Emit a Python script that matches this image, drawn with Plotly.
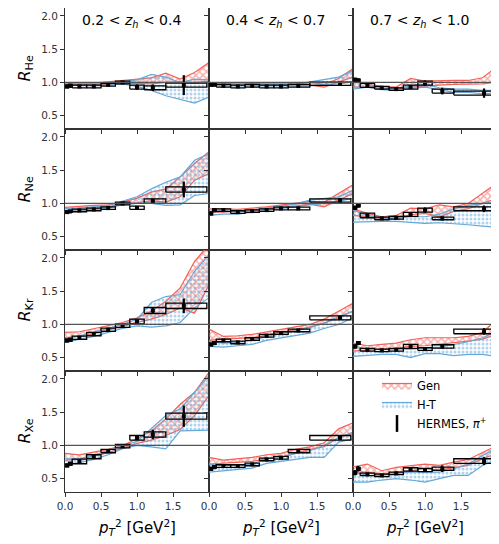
import plotly.graph_objects as go
from plotly.subplots import make_subplots

# ---------------- data ----------------
pt2_model = [0.0, 0.2, 0.4, 0.6, 0.8, 1.0, 1.2, 1.4, 1.6, 1.8, 2.0]
hermes_x_z1 = [0.03, 0.07, 0.2, 0.4, 0.6, 0.8, 1.0, 1.22, 1.65]
hermes_x_z23 = [0.03, 0.07, 0.2, 0.4, 0.6, 0.8, 1.0, 1.24, 1.82]
bin_lo = [0.0, 0.05, 0.1, 0.3, 0.5, 0.7, 0.9, 1.1, 1.4]
bin_hi = [0.05, 0.1, 0.3, 0.5, 0.7, 0.9, 1.1, 1.4, 1.97]

nuclei = ["He", "Ne", "Kr", "Xe"]
zh_labels = ["0.2 &lt; <i>z</i><sub><i>h</i></sub> &lt; 0.4",
             "0.4 &lt; <i>z</i><sub><i>h</i></sub> &lt; 0.7",
             "0.7 &lt; <i>z</i><sub><i>h</i></sub> &lt; 1.0"]

# He
he_z1_y = [0.94, 0.95, 0.94, 0.94, 0.965, 1.0, 0.93, 0.92, 0.96]
he_z1_stat = [0.01, 0.01, 0.01, 0.01, 0.01, 0.015, 0.04, 0.05, 0.15]
he_z1_sys = [0.02, 0.02, 0.02, 0.02, 0.02, 0.02, 0.03, 0.03, 0.03]
gen_he_z1_lo = [0.96, 0.96, 0.96, 0.97, 0.99, 0.99, 0.98, 1.00, 1.01, 0.99, 1.02]
gen_he_z1_hi = [0.99, 0.98, 0.99, 1.00, 1.03, 1.05, 1.07, 1.14, 1.05, 1.15, 1.30]
ht_he_z1_lo = [0.96, 0.95, 0.95, 0.96, 0.98, 0.94, 0.88, 0.80, 0.74, 0.69, 0.78]
ht_he_z1_hi = [0.99, 0.98, 0.98, 0.99, 1.01, 1.04, 1.12, 1.08, 1.00, 1.05, 1.04]

he_z2_y = [0.965, 0.97, 0.95, 0.94, 0.95, 0.94, 0.94, 0.95, 0.98]
he_z2_stat = [0.015, 0.01, 0.01, 0.01, 0.01, 0.01, 0.01, 0.015, 0.03]
he_z2_sys = [0.02, 0.02, 0.02, 0.02, 0.02, 0.02, 0.02, 0.02, 0.025]
gen_he_z2_lo = [0.96, 0.96, 0.95, 0.96, 0.96, 0.96, 0.96, 0.96, 0.93, 1.00, 1.08]
gen_he_z2_hi = [0.99, 0.99, 0.98, 0.99, 0.99, 0.99, 0.99, 1.00, 0.97, 1.06, 1.21]
ht_he_z2_lo = [0.95, 0.95, 0.94, 0.95, 0.94, 0.94, 0.94, 0.95, 0.97, 0.98, 1.01]
ht_he_z2_hi = [0.98, 0.98, 0.97, 0.98, 0.97, 0.97, 0.97, 1.00, 1.04, 1.08, 1.18]

he_z3_y = [1.04, 1.03, 0.955, 0.92, 0.90, 0.93, 0.99, 0.87, 0.84]
he_z3_stat = [0.03, 0.03, 0.015, 0.015, 0.015, 0.02, 0.04, 0.05, 0.07]
he_z3_sys = [0.02, 0.02, 0.03, 0.02, 0.02, 0.03, 0.03, 0.03, 0.03]
gen_he_z3_lo = [0.93, 0.93, 0.90, 0.90, 0.93, 0.95, 0.96, 0.97, 0.97, 0.98, 1.00]
gen_he_z3_hi = [1.02, 0.97, 0.94, 0.93, 1.06, 1.02, 1.02, 1.03, 1.03, 1.07, 1.24]
ht_he_z3_lo = [0.90, 0.93, 0.89, 0.88, 0.91, 0.93, 0.89, 0.85, 0.85, 0.83, 0.84]
ht_he_z3_hi = [1.05, 0.96, 0.92, 0.91, 0.95, 0.97, 0.92, 0.90, 0.90, 0.88, 0.88]

# Ne
ne_z1_y = [0.87, 0.88, 0.895, 0.91, 0.93, 1.0, 0.935, 1.035, 1.21]
ne_z1_stat = [0.01, 0.01, 0.01, 0.01, 0.01, 0.015, 0.02, 0.04, 0.12]
ne_z1_sys = [0.015, 0.015, 0.02, 0.02, 0.02, 0.02, 0.025, 0.035, 0.04]
gen_ne_z1_lo = [0.89, 0.90, 0.92, 0.95, 0.99, 1.01, 1.04, 1.02, 1.10, 1.35, 1.45]
gen_ne_z1_hi = [0.94, 0.95, 0.97, 0.98, 1.02, 1.08, 1.17, 1.22, 1.40, 1.60, 1.78]
ht_ne_z1_lo = [0.86, 0.88, 0.90, 0.93, 0.98, 1.00, 1.00, 0.97, 0.98, 1.12, 1.15]
ht_ne_z1_hi = [0.92, 0.93, 0.95, 0.97, 1.03, 1.10, 1.22, 1.32, 1.40, 1.65, 1.75]

ne_z2_y = [0.85, 0.90, 0.90, 0.87, 0.885, 0.90, 0.925, 0.925, 1.045]
ne_z2_stat = [0.015, 0.01, 0.01, 0.01, 0.01, 0.01, 0.01, 0.015, 0.03]
ne_z2_sys = [0.02, 0.02, 0.02, 0.02, 0.02, 0.02, 0.02, 0.02, 0.025]
gen_ne_z2_lo = [0.86, 0.87, 0.87, 0.89, 0.91, 0.93, 0.96, 0.99, 0.95, 1.05, 1.15]
gen_ne_z2_hi = [0.92, 0.92, 0.91, 0.93, 0.95, 0.97, 1.00, 1.03, 1.02, 1.15, 1.28]
ht_ne_z2_lo = [0.82, 0.84, 0.84, 0.87, 0.89, 0.92, 0.95, 0.98, 1.00, 1.03, 1.08]
ht_ne_z2_hi = [0.88, 0.89, 0.87, 0.90, 0.93, 0.96, 0.99, 1.05, 1.07, 1.10, 1.20]

ne_z3_y = [0.935, 0.97, 0.82, 0.775, 0.785, 0.835, 0.90, 0.775, 0.92]
ne_z3_stat = [0.03, 0.03, 0.015, 0.015, 0.015, 0.02, 0.04, 0.03, 0.05]
ne_z3_sys = [0.02, 0.02, 0.035, 0.02, 0.02, 0.03, 0.03, 0.02, 0.03]
gen_ne_z3_lo = [0.82, 0.80, 0.77, 0.78, 0.83, 0.85, 0.80, 0.88, 0.92, 1.00, 1.08]
gen_ne_z3_hi = [0.92, 0.85, 0.80, 0.82, 0.93, 0.92, 0.98, 0.95, 1.00, 1.15, 1.31]
ht_ne_z3_lo = [0.72, 0.73, 0.73, 0.73, 0.72, 0.70, 0.71, 0.70, 0.68, 0.66, 0.64]
ht_ne_z3_hi = [0.90, 0.82, 0.78, 0.78, 0.80, 0.80, 0.84, 0.92, 0.97, 1.00, 1.03]

# Kr
kr_z1_y = [0.76, 0.77, 0.80, 0.855, 0.92, 0.98, 1.045, 1.21, 1.28]
kr_z1_stat = [0.01, 0.01, 0.01, 0.01, 0.01, 0.015, 0.02, 0.05, 0.11]
kr_z1_sys = [0.02, 0.02, 0.025, 0.025, 0.025, 0.025, 0.035, 0.045, 0.04]
gen_kr_z1_lo = [0.80, 0.82, 0.86, 0.91, 0.97, 1.03, 1.08, 1.15, 1.25, 1.17, 1.60]
gen_kr_z1_hi = [0.88, 0.89, 0.93, 0.98, 1.03, 1.10, 1.20, 1.35, 1.55, 1.95, 2.20]
ht_kr_z1_lo = [0.73, 0.77, 0.82, 0.88, 0.94, 0.98, 0.96, 0.98, 1.03, 1.25, 1.40]
ht_kr_z1_hi = [0.79, 0.83, 0.88, 0.94, 1.00, 1.08, 1.33, 1.42, 1.45, 1.80, 2.05]

kr_z2_y = [0.70, 0.72, 0.76, 0.73, 0.78, 0.83, 0.87, 0.91, 1.10]
kr_z2_stat = [0.015, 0.01, 0.01, 0.01, 0.01, 0.01, 0.01, 0.015, 0.03]
kr_z2_sys = [0.02, 0.02, 0.02, 0.02, 0.02, 0.02, 0.02, 0.02, 0.03]
gen_kr_z2_lo = [0.76, 0.78, 0.79, 0.80, 0.84, 0.88, 0.92, 0.96, 1.02, 1.10, 1.20]
gen_kr_z2_hi = [0.93, 0.82, 0.83, 0.85, 0.88, 0.92, 0.96, 1.00, 1.08, 1.20, 1.32]
ht_kr_z2_lo = [0.67, 0.66, 0.68, 0.70, 0.76, 0.80, 0.84, 0.87, 0.94, 1.00, 1.10]
ht_kr_z2_hi = [0.75, 0.72, 0.73, 0.76, 0.82, 0.86, 0.90, 0.95, 1.02, 1.12, 1.20]

kr_z3_y = [0.67, 0.72, 0.62, 0.61, 0.62, 0.67, 0.63, 0.67, 0.895]
kr_z3_stat = [0.03, 0.03, 0.015, 0.015, 0.015, 0.02, 0.03, 0.03, 0.05]
kr_z3_sys = [0.02, 0.02, 0.02, 0.02, 0.02, 0.03, 0.02, 0.025, 0.035]
gen_kr_z3_lo = [0.60, 0.62, 0.63, 0.64, 0.67, 0.68, 0.70, 0.72, 0.75, 0.78, 0.85]
gen_kr_z3_hi = [0.72, 0.68, 0.70, 0.72, 0.77, 0.80, 0.80, 0.80, 0.82, 0.88, 1.08]
ht_kr_z3_lo = [0.52, 0.54, 0.55, 0.55, 0.50, 0.56, 0.56, 0.53, 0.55, 0.55, 0.52]
ht_kr_z3_hi = [0.68, 0.63, 0.62, 0.63, 0.63, 0.65, 0.66, 0.70, 0.74, 0.80, 0.90]

# Xe
xe_z1_y = [0.70, 0.725, 0.76, 0.83, 0.915, 0.99, 1.115, 1.165, 1.44]
xe_z1_stat = [0.01, 0.01, 0.01, 0.01, 0.01, 0.015, 0.03, 0.07, 0.16]
xe_z1_sys = [0.02, 0.02, 0.035, 0.03, 0.025, 0.025, 0.035, 0.04, 0.045]
gen_xe_z1_lo = [0.78, 0.79, 0.84, 0.89, 0.96, 1.03, 1.08, 1.15, 1.24, 1.45, 1.75]
gen_xe_z1_hi = [0.88, 0.86, 0.90, 0.94, 1.00, 1.10, 1.22, 1.40, 1.62, 1.80, 2.10]
ht_xe_z1_lo = [0.72, 0.74, 0.79, 0.86, 0.95, 1.00, 0.98, 0.95, 1.22, 1.23, 1.23]
ht_xe_z1_hi = [0.80, 0.80, 0.85, 0.92, 1.00, 1.06, 1.25, 1.45, 1.55, 1.80, 2.05]

xe_z2_y = [0.65, 0.675, 0.69, 0.69, 0.715, 0.79, 0.815, 0.915, 1.115]
xe_z2_stat = [0.015, 0.01, 0.01, 0.01, 0.01, 0.01, 0.01, 0.015, 0.03]
xe_z2_sys = [0.02, 0.02, 0.02, 0.02, 0.02, 0.02, 0.02, 0.025, 0.035]
gen_xe_z2_lo = [0.72, 0.73, 0.74, 0.76, 0.80, 0.82, 0.88, 0.94, 0.98, 1.12, 1.18]
gen_xe_z2_hi = [0.82, 0.78, 0.80, 0.82, 0.86, 0.88, 0.94, 0.98, 1.04, 1.25, 1.34]
ht_xe_z2_lo = [0.60, 0.62, 0.63, 0.66, 0.73, 0.76, 0.80, 0.82, 0.82, 1.05, 1.10]
ht_xe_z2_hi = [0.72, 0.70, 0.70, 0.72, 0.80, 0.82, 0.88, 0.92, 1.00, 1.12, 1.20]

xe_z3_y = [0.59, 0.65, 0.565, 0.55, 0.58, 0.64, 0.63, 0.65, 0.765]
xe_z3_stat = [0.04, 0.04, 0.015, 0.015, 0.015, 0.02, 0.03, 0.05, 0.06]
xe_z3_sys = [0.02, 0.02, 0.02, 0.02, 0.02, 0.025, 0.025, 0.025, 0.035]
gen_xe_z3_lo = [0.60, 0.60, 0.57, 0.60, 0.63, 0.65, 0.63, 0.66, 0.70, 0.80, 0.88]
gen_xe_z3_hi = [0.68, 0.72, 0.62, 0.67, 0.70, 0.72, 0.70, 0.75, 0.79, 0.90, 1.00]
ht_xe_z3_lo = [0.45, 0.45, 0.48, 0.50, 0.48, 0.45, 0.50, 0.55, 0.55, 0.70, 0.79]
ht_xe_z3_hi = [0.60, 0.55, 0.55, 0.58, 0.60, 0.60, 0.60, 0.65, 0.72, 0.85, 0.97]

panels = {
    ("He", 0): (he_z1_y, he_z1_stat, he_z1_sys, gen_he_z1_lo, gen_he_z1_hi, ht_he_z1_lo, ht_he_z1_hi),
    ("He", 1): (he_z2_y, he_z2_stat, he_z2_sys, gen_he_z2_lo, gen_he_z2_hi, ht_he_z2_lo, ht_he_z2_hi),
    ("He", 2): (he_z3_y, he_z3_stat, he_z3_sys, gen_he_z3_lo, gen_he_z3_hi, ht_he_z3_lo, ht_he_z3_hi),
    ("Ne", 0): (ne_z1_y, ne_z1_stat, ne_z1_sys, gen_ne_z1_lo, gen_ne_z1_hi, ht_ne_z1_lo, ht_ne_z1_hi),
    ("Ne", 1): (ne_z2_y, ne_z2_stat, ne_z2_sys, gen_ne_z2_lo, gen_ne_z2_hi, ht_ne_z2_lo, ht_ne_z2_hi),
    ("Ne", 2): (ne_z3_y, ne_z3_stat, ne_z3_sys, gen_ne_z3_lo, gen_ne_z3_hi, ht_ne_z3_lo, ht_ne_z3_hi),
    ("Kr", 0): (kr_z1_y, kr_z1_stat, kr_z1_sys, gen_kr_z1_lo, gen_kr_z1_hi, ht_kr_z1_lo, ht_kr_z1_hi),
    ("Kr", 1): (kr_z2_y, kr_z2_stat, kr_z2_sys, gen_kr_z2_lo, gen_kr_z2_hi, ht_kr_z2_lo, ht_kr_z2_hi),
    ("Kr", 2): (kr_z3_y, kr_z3_stat, kr_z3_sys, gen_kr_z3_lo, gen_kr_z3_hi, ht_kr_z3_lo, ht_kr_z3_hi),
    ("Xe", 0): (xe_z1_y, xe_z1_stat, xe_z1_sys, gen_xe_z1_lo, gen_xe_z1_hi, ht_xe_z1_lo, ht_xe_z1_hi),
    ("Xe", 1): (xe_z2_y, xe_z2_stat, xe_z2_sys, gen_xe_z2_lo, gen_xe_z2_hi, ht_xe_z2_lo, ht_xe_z2_hi),
    ("Xe", 2): (xe_z3_y, xe_z3_stat, xe_z3_sys, gen_xe_z3_lo, gen_xe_z3_hi, ht_xe_z3_lo, ht_xe_z3_hi),
}

# ---------------- figure ----------------
# the page places the figure 8 px in from the top-left corner of the window
OFF = 8
W, H = 499 - OFF, 544 - OFF
ML, MR, MT, MB = 65 - OFF, 2, 8 - OFF, 52
RED = "rgb(242,98,88)"
BLUE = "rgb(102,168,218)"
AX = "#333333"
FONT = "DejaVu Sans"

fig = make_subplots(rows=4, cols=3, shared_xaxes=True, shared_yaxes=True,
                    horizontal_spacing=0, vertical_spacing=0)

first = True
for r, nuc in enumerate(nuclei):
    for c in range(3):
        y, stat, sys_, glo, ghi, hlo, hhi = panels[(nuc, c)]
        xs = hermes_x_z1 if c == 0 else hermes_x_z23
        band_x = pt2_model + pt2_model[::-1]
        # Gen band
        fig.add_trace(go.Scatter(
            x=band_x, y=glo + ghi[::-1], fill="toself", mode="lines",
            line=dict(color=RED, width=1.2), fillcolor="rgba(0,0,0,0)",
            fillpattern=dict(shape="x", fgcolor=RED, bgcolor="rgba(255,255,255,0)",
                             size=5, solidity=0.5),
            name="Gen", legendgroup="gen", showlegend=first),
            row=r + 1, col=c + 1)
        # H-T band
        fig.add_trace(go.Scatter(
            x=band_x, y=hlo + hhi[::-1], fill="toself", mode="lines",
            line=dict(color=BLUE, width=1.2), fillcolor="rgba(0,0,0,0)",
            fillpattern=dict(shape=".", fgcolor=BLUE, bgcolor="rgba(255,255,255,0)",
                             size=4, solidity=0.45),
            name="H-T", legendgroup="ht", showlegend=first),
            row=r + 1, col=c + 1)
        # systematic boxes
        bx, by = [], []
        for x0, x1, yy, s in zip(bin_lo, bin_hi, y, sys_):
            bx += [x0, x1, x1, x0, x0, None]
            by += [yy - s, yy - s, yy + s, yy + s, yy - s, None]
        fig.add_trace(go.Scatter(x=bx, y=by, mode="lines",
                                 line=dict(color="black", width=1.3),
                                 showlegend=False, hoverinfo="skip"),
                      row=r + 1, col=c + 1)
        # data points
        fig.add_trace(go.Scatter(
            x=xs, y=y, mode="markers",
            marker=dict(color="black", size=4, symbol="square"),
            error_y=dict(type="data", array=stat, color="black", thickness=2.2, width=0),
            showlegend=False, name="HERMES"),
            row=r + 1, col=c + 1)
        fig.add_hline(y=1.0, line=dict(color="#555555", width=1.2), row=r + 1, col=c + 1)
        first = False

# legend proxy for HERMES
fig.add_trace(go.Scatter(x=[None], y=[None], mode="markers",
                         marker=dict(symbol="line-ns-open", size=12, color="black",
                                     line=dict(color="black", width=2.5)),
                         name="HERMES, <i>π</i><sup>+</sup>"), row=4, col=3)

fig.update_xaxes(range=[0, 2.0], tickvals=[0, 0.5, 1.0, 1.5],
                 ticktext=["0.0", "0.5", "1.0", "1.5"],
                 showgrid=False, zeroline=False, showline=True, mirror=True,
                 linecolor=AX, linewidth=1, ticks="outside", ticklen=4,
                 tickcolor=AX, tickfont=dict(size=10.5, color=AX, family=FONT))
fig.update_yaxes(range=[0.3, 2.12], tickvals=[0.5, 1.0, 1.5, 2.0],
                 ticktext=["0.5", "1.0", "1.5", "2.0"],
                 showgrid=False, zeroline=False, showline=True, mirror=True,
                 linecolor=AX, linewidth=1, ticks="outside", ticklen=4,
                 tickcolor=AX, tickfont=dict(size=10.5, color=AX, family=FONT))

pw = W - ML - MR      # 432
ph = H - MT - MB      # 484
# window-pixel helpers (plot area spans x 65..497, y 8..492 in the window)
def px(xw):
    return (xw - 65) / pw
def py(yw):
    return (492 - yw) / ph

annotations = []
for c in range(3):
    annotations.append(dict(
        x=px(80 + 144 * c), y=py(21), xref="paper", yref="paper",
        xanchor="left", yanchor="middle", showarrow=False, text=zh_labels[c],
        font=dict(size=14, color="black", family=FONT)))
    annotations.append(dict(
        x=px(65 + 144 * (c + 0.5)), y=py(527), xref="paper", yref="paper",
        xanchor="center", yanchor="middle", showarrow=False,
        text="<i>p</i><sub><i>T</i></sub><sup>2</sup> [GeV<sup>2</sup>]",
        font=dict(size=15, color="black", family=FONT)))
for r, nuc in enumerate(nuclei):
    annotations.append(dict(
        x=px(25), y=py(8 + 121 * (r + 0.5)), xref="paper", yref="paper",
        xanchor="center", yanchor="middle", showarrow=False, textangle=-90,
        text=f"<i>R</i><sub>{nuc}</sub>",
        font=dict(size=16, color="black", family=FONT)))

fig.update_layout(
    width=W, height=H,
    margin=dict(l=ML, r=MR, t=MT, b=MB, autoexpand=False),
    paper_bgcolor="white", plot_bgcolor="white",
    font=dict(family=FONT, color=AX),
    annotations=annotations,
    legend=dict(x=px(377), y=py(371), xanchor="left", yanchor="top",
                bgcolor="rgba(0,0,0,0)", font=dict(size=11.5, color="black", family=FONT),
                itemwidth=30, tracegroupgap=0),
)

fig.write_html("out.html")
